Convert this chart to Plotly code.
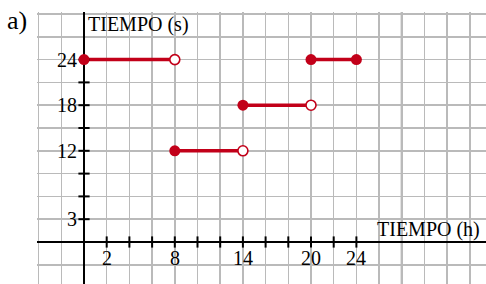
import plotly.graph_objects as go

# ---- data ----
seg_x_start = [0, 8, 14, 20]
seg_x_end = [8, 14, 20, 24]
seg_y = [24, 12, 18, 24]
start_closed = [True, True, True, True]
end_closed = [False, False, False, True]

x_tick_marks = [2, 4, 6, 8, 10, 12, 14, 16, 18, 20, 22, 24]
x_tick_labels = [2, 8, 14, 20, 24]
y_tick_marks = [3, 6, 9, 12, 15, 18, 21, 24]
y_tick_labels = [3, 12, 18, 24]

x_title = "TIEMPO (h)"
y_title = "TIEMPO (s)"
panel_label = "a)"

RED = "#c20019"
FONT = "Liberation Serif"

W, H = 486, 284
sx, sy = 11.35, 7.6          # px per data unit
ox, oy = 84, 242             # pixel position of origin
ml, mt = 37, 12

xr = [(ml - ox) / sx, (W - ox) / sx]
yr = [(oy - H) / sy, (oy - mt) / sy]

fig = go.Figure()

# segments
lx, ly = [], []
for a, b, y in zip(seg_x_start, seg_x_end, seg_y):
    lx += [a, b, None]
    ly += [y, y, None]
fig.add_trace(go.Scatter(x=lx, y=ly, mode="lines",
                         line=dict(color=RED, width=3.5), hoverinfo="skip"))

# tick marks crossing axes
fig.add_trace(go.Scatter(x=x_tick_marks, y=[0] * len(x_tick_marks), mode="markers",
                         marker=dict(symbol="line-ns", size=8,
                                     line=dict(color="black", width=2)),
                         hoverinfo="skip", cliponaxis=False))
fig.add_trace(go.Scatter(x=[0] * len(y_tick_marks), y=y_tick_marks, mode="markers",
                         marker=dict(symbol="line-ew", size=8,
                                     line=dict(color="black", width=2)),
                         hoverinfo="skip", cliponaxis=False))

# endpoints
fx, fy, ex, ey = [], [], [], []
for a, b, y, sc, ec in zip(seg_x_start, seg_x_end, seg_y, start_closed, end_closed):
    (fx if sc else ex).append(a); (fy if sc else ey).append(y)
    (fx if ec else ex).append(b); (fy if ec else ey).append(y)
fig.add_trace(go.Scatter(x=fx, y=fy, mode="markers",
                         marker=dict(symbol="circle", size=11, color=RED,
                                     line=dict(width=0)),
                         hoverinfo="skip", cliponaxis=False))
fig.add_trace(go.Scatter(x=ex, y=ey, mode="markers",
                         marker=dict(symbol="circle", size=10, color="white",
                                     line=dict(color=RED, width=1.6)),
                         hoverinfo="skip", cliponaxis=False))

ann = []
for v in x_tick_labels:
    ann.append(dict(x=v, y=0, xref="x", yref="y", text=str(v), showarrow=False,
                    xanchor="center", yanchor="top", yshift=-3,
                    font=dict(family=FONT, size=20, color="black")))
for v in y_tick_labels:
    ann.append(dict(x=0, y=v, xref="x", yref="y", text=str(v), showarrow=False,
                    xanchor="right", yanchor="middle", xshift=-5,
                    font=dict(family=FONT, size=20, color="black")))
ann.append(dict(x=0, y=28.6, xref="x", yref="y", text=y_title, showarrow=False,
                xanchor="left", yanchor="middle", xshift=2,
                font=dict(family=FONT, size=20, color="black")))
ann.append(dict(x=25.8, y=1.7, xref="x", yref="y", text=x_title, showarrow=False,
                xanchor="left", yanchor="middle", xshift=-2,
                font=dict(family=FONT, size=20, color="black")))
ann.append(dict(x=(5 - ml) / (W - ml), y=(H - 20) / (H - mt), xref="paper", yref="paper",
                text=panel_label, showarrow=False, xanchor="left", yanchor="middle",
                font=dict(family=FONT, size=26, color="black")))

fig.update_layout(
    width=W, height=H, margin=dict(l=ml, r=0, t=mt, b=0),
    paper_bgcolor="white", plot_bgcolor="white", showlegend=False,
    annotations=ann,
    shapes=[dict(type="line", xref="x", yref="paper", x0=28, x1=28, y0=0, y1=1,
                 line=dict(color="#a4a4a4", width=2.2), layer="below")],
    xaxis=dict(range=xr, tick0=0, dtick=2, showgrid=True, gridcolor="#bababa",
               gridwidth=1.5, zeroline=True, zerolinecolor="black", zerolinewidth=2.5,
               showticklabels=False, ticks="", showline=False, fixedrange=True),
    yaxis=dict(range=yr, tick0=0, dtick=3, showgrid=True, gridcolor="#bababa",
               gridwidth=1.5, zeroline=True, zerolinecolor="black", zerolinewidth=2.5,
               showticklabels=False, ticks="", showline=False, fixedrange=True),
)

fig.write_html("out.html", config={"staticPlot": True},
               post_script="document.body.style.margin='0';document.body.style.overflow='hidden';")
